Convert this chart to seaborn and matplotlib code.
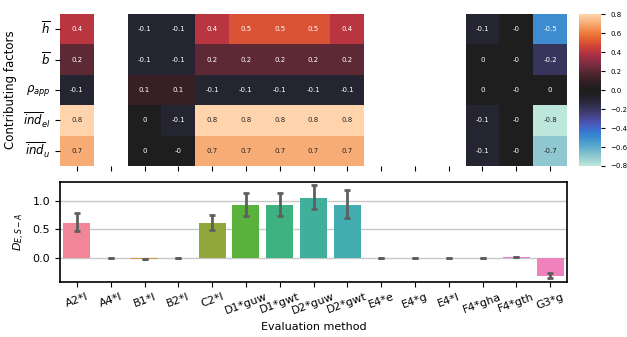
import numpy as np
import pandas as pd
import matplotlib
matplotlib.use("Agg")
import matplotlib.pyplot as plt
import seaborn as sns

methods = ["A2*l", "A4*l", "B1*l", "B2*l", "C2*l", "D1*guw", "D1*gwt", "D2*guw",
           "D2*gwt", "E4*e", "E4*g", "E4*l", "F4*gha", "F4*gth", "G3*g"]
factors = [r"$\overline{h}$", r"$\overline{b}$", r"$\rho_{app}$",
           r"$\overline{ind}_{el}$", r"$\overline{ind}_u$"]
nan = np.nan
corr_h = [0.4, nan, -0.1, -0.1, 0.4, 0.5, 0.5, 0.5, 0.4, nan, nan, nan, -0.1, -0.0, -0.5]
corr_b = [0.2, nan, -0.1, -0.1, 0.2, 0.2, 0.2, 0.2, 0.2, nan, nan, nan, 0.0, -0.0, -0.2]
corr_rho = [-0.1, nan, 0.1, 0.1, -0.1, -0.1, -0.1, -0.1, -0.1, nan, nan, nan, 0.0, -0.0, 0.0]
corr_ind_el = [0.8, nan, 0.0, -0.1, 0.8, 0.8, 0.8, 0.8, 0.8, nan, nan, nan, -0.1, -0.0, -0.8]
corr_ind_u = [0.7, nan, 0.0, -0.0, 0.7, 0.7, 0.7, 0.7, 0.7, nan, nan, nan, -0.1, -0.0, -0.7]

d_mean = [0.62, 0.0, -0.01, 0.0, 0.62, 0.92, 0.935, 1.05, 0.935, 0.0, 0.0, 0.0, 0.0, 0.01, -0.315]
d_low = [0.48, 0.0, -0.01, 0.0, 0.49, 0.73, 0.73, 0.85, 0.70, 0.0, 0.0, 0.0, 0.0, 0.01, -0.35]
d_high = [0.78, 0.0, -0.01, 0.0, 0.76, 1.14, 1.145, 1.27, 1.19, 0.0, 0.0, 0.0, 0.0, 0.01, -0.26]

W, H = 627, 337
fig = plt.figure(figsize=(W / 100, H / 100), dpi=100)

def rect(x0, y0, x1, y1):
    return [x0 / W, 1 - y1 / H, (x1 - x0) / W, (y1 - y0) / H]

ax_hm = fig.add_axes(rect(60, 14, 567, 166))
cax = fig.add_axes(rect(579, 14, 601, 166))
ax_bar = fig.add_axes(rect(60, 181.5, 567, 282))

corr = pd.DataFrame([corr_h, corr_b, corr_rho, corr_ind_el, corr_ind_u],
                    index=factors, columns=methods)
sns.heatmap(corr, ax=ax_hm, cbar_ax=cax, cmap="icefire", vmin=-0.8, vmax=0.8,
            annot=True, fmt="g", annot_kws={"size": 5})
ax_hm.set_xticklabels([])
ax_hm.set_xlabel("")
ax_hm.set_yticklabels(factors, rotation=0, fontsize=8.5)
ax_hm.set_ylabel("Contributing factors", fontsize=8.5)
ax_hm.tick_params(axis="both", length=3.5, width=0.8)
cax.set_yticks([-0.8, -0.6, -0.4, -0.2, 0.0, 0.2, 0.4, 0.6, 0.8])
cax.tick_params(labelsize=5, length=3, width=0.8)

bars = pd.DataFrame({"method": methods, "D": d_mean})
pal = sns.husl_palette(len(methods), l=0.68)
sns.barplot(data=bars, x="method", y="D", hue="method", palette=pal,
            legend=False, errorbar=None, ax=ax_bar, saturation=0.88, width=0.8)
xs = np.arange(len(methods))
mean = np.array(d_mean)
yerr = np.vstack([mean - np.array(d_low), np.array(d_high) - mean])
ax_bar.errorbar(xs, mean, yerr=yerr, fmt="none", ecolor="#5f5f5f",
                elinewidth=2, capsize=2.5, capthick=2, zorder=3)
ax_bar.set_ylim(-0.42, 1.34)
ax_bar.set_xlim(-0.5, len(methods) - 0.5)
ax_bar.set_yticks([0.0, 0.5, 1.0])
ax_bar.yaxis.grid(True, color="#c8c8c8", linewidth=1)
ax_bar.set_axisbelow(True)
ax_bar.set_ylabel(r"$D_{E,S-A}$", fontsize=8)
ax_bar.set_xlabel("Evaluation method", fontsize=8)
ax_bar.tick_params(axis="y", labelsize=8)
ax_bar.tick_params(axis="x", labelsize=8, rotation=20)
for s in ax_bar.spines.values():
    s.set_linewidth(1.2)

fig.savefig("out.png", dpi=100)
